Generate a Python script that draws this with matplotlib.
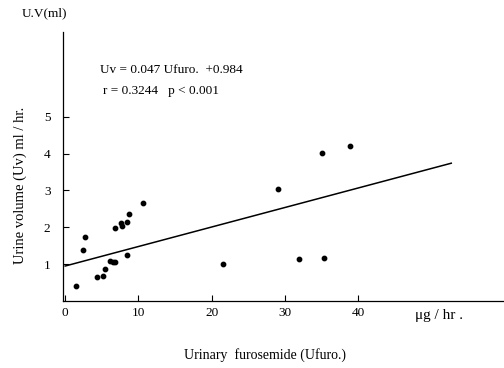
import numpy as np
import matplotlib.pyplot as plt

plt.rcParams['font.family'] = ['Liberation Serif', 'DejaVu Serif']

# urinary furosemide (ug/hr) vs urine volume (ml/hr)
ufuro = [1.5, 2.4, 2.7, 4.3, 5.1, 5.5, 6.1, 6.5, 6.8, 6.8, 7.6, 7.8, 8.5, 8.7,
         8.4, 10.6, 21.5, 29.1, 31.9, 35.0, 35.3, 38.9]
uv = [0.42, 1.39, 1.73, 0.65, 0.68, 0.86, 1.09, 1.07, 1.05, 1.97, 2.12, 2.03,
      2.14, 2.35, 1.24, 2.65, 1.01, 3.04, 1.15, 4.02, 1.16, 4.20]

# regression line as drawn
line_x = [0, 52.7]
line_y = [0.95, 3.74]

xticks = [0, 10, 20, 30, 40]
yticks = [1, 2, 3, 4, 5]

fig = plt.figure(figsize=(5.04, 3.68), dpi=100)
ax = fig.add_axes([0.125, 0.182, 0.875, 0.731])

ax.scatter(ufuro, uv, s=10, color='black', zorder=3)
ax.plot(line_x, line_y, color='black', lw=1.1)

ax.set_xlim(-0.3, 59.9)
ax.set_ylim(0, 7.3)
ax.set_xticks(xticks)
ax.set_yticks(yticks)
ax.tick_params(direction='in', length=4, width=0.8, labelsize=9.5, pad=4)
ax.tick_params(axis='y', pad=9)
for s in ['top', 'right']:
    ax.spines[s].set_visible(False)
ax.spines['left'].set_linewidth(0.9)
ax.spines['bottom'].set_linewidth(0.9)

fig.text(0.089, 0.963, 'U.V(ml)', fontsize=9.5, ha='center', va='center')
fig.text(0.040, 0.497, 'Urine volume (Uv) ml / hr.', fontsize=10.5,
         rotation=90, ha='center', va='center')
fig.text(0.198, 0.810, 'Uv = 0.047 Ufuro.  +0.984', fontsize=9.5, va='center')
fig.text(0.204, 0.753, 'r = 0.3244   p < 0.001', fontsize=9.5, va='center')
fig.text(0.823, 0.143, 'μg / hr .', fontsize=11, va='center')
fig.text(0.526, 0.035, 'Urinary  furosemide (Ufuro.)', fontsize=10,
         ha='center', va='center')

fig.savefig('out.png', dpi=100)
